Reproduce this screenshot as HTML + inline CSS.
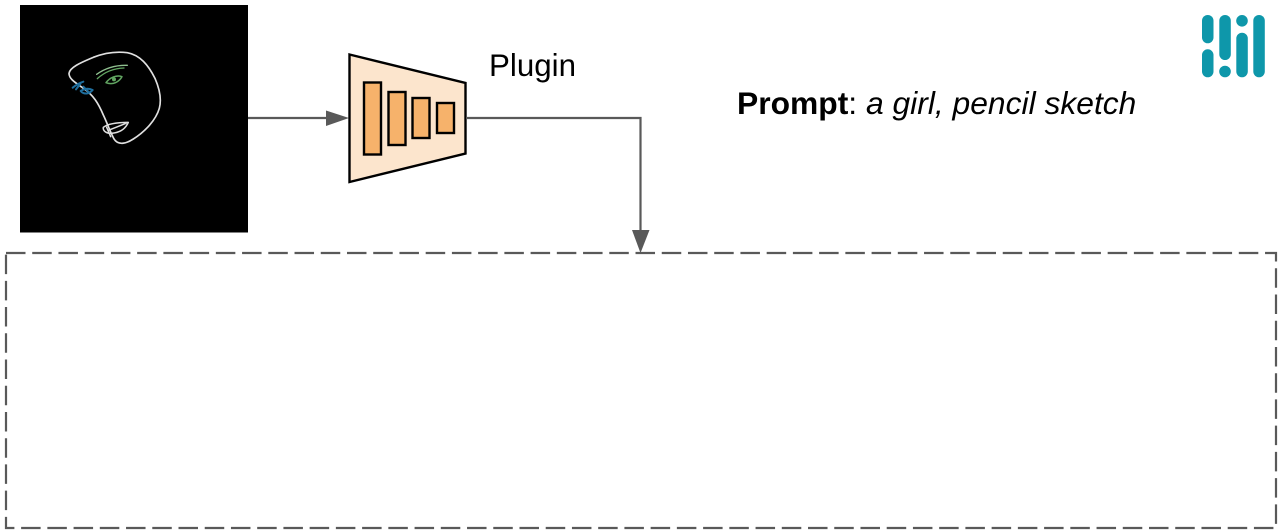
<!DOCTYPE html>
<html><head><meta charset="utf-8"><style>
html,body{margin:0;padding:0;background:#fff;width:1280px;height:532px;overflow:hidden}
svg{display:block}
text{font-family:"Liberation Sans",sans-serif;fill:#000}
</style></head><body>
<svg width="1280" height="532" viewBox="0 0 1280 532" xmlns="http://www.w3.org/2000/svg">
<rect x="20" y="5" width="228" height="227.500" fill="#000"/>
<g transform="translate(50,40) scale(0.3333)" fill="none" stroke-linecap="round" stroke-linejoin="round">
<path d="M57 100C60 80 100 65 130 52C165 38 200 34 232 38C270 45 295 75 315 115C328 145 336 175 328 205C318 240 285 275 250 297C230 310 205 318 192 297C178 270 172 250 160 225C145 190 130 165 100 145C80 130 57 118 57 100Z" stroke="#e0e0e0" stroke-width="5"/>
<path d="M160 262C175 250 205 247 235 247C225 270 205 280 178 280C165 278 158 270 160 262ZM170 262L182 290M178 270L228 250" stroke="#e0e0e0" stroke-width="4.500"/>
<path d="M140 103C165 85 195 75 232 76" stroke="#8fbf8f" stroke-width="4"/>
<path d="M142 116C165 95 190 85 222 84" stroke="#62a662" stroke-width="4"/>
<path d="M168 128C180 112 200 104 216 110C208 125 190 136 168 128Z" stroke="#62a662" stroke-width="4.500"/>
<circle cx="192" cy="118" r="6" fill="#62a662"/>
<path d="M68 143C78 135 90 128 100 125M78 148L92 130M92 153C105 145 118 145 128 150C118 162 102 165 92 153ZM100 140L118 158" stroke="#1f6f9f" stroke-width="6"/>
</g>
<line x1="248" y1="118" x2="330" y2="118" stroke="#595959" stroke-width="2.200"/>
<polygon points="326,110.500 349,118 326,126" fill="#595959"/>
<polygon points="349.500,54.500 465.500,83 465.500,153.500 349.500,182" fill="#fce5cd" stroke="#000" stroke-width="2.400"/>
<g fill="#f6b26b" stroke="#000" stroke-width="2.400">
<rect x="364" y="82.500" width="17" height="72"/>
<rect x="388.500" y="92" width="17" height="53"/>
<rect x="412.500" y="98" width="17" height="40"/>
<rect x="437" y="103" width="17" height="30"/>
</g>
<path d="M466 118H640.500V235" fill="none" stroke="#595959" stroke-width="2.200"/>
<polygon points="632,230 649.500,230 640.500,253" fill="#595959"/>
<rect x="6" y="253" width="1270" height="275" fill="none" stroke="#595959" stroke-width="2.200" stroke-dasharray="19.500 6.730"/>
<text x="489" y="76" font-size="31.300">Plugin</text>
<text x="737" y="114" font-size="31.800"><tspan font-weight="bold">Prompt</tspan>: <tspan font-style="italic">a girl, pencil sketch</tspan></text>
<g fill="#0e97aa">
<rect x="1202" y="15" width="11.500" height="28.300" rx="5.750"/>
<rect x="1202" y="49.300" width="11.500" height="28" rx="5.750"/>
<rect x="1219.300" y="15" width="11.500" height="45" rx="5.750"/>
<circle cx="1225" cy="71.500" r="5.800"/>
<circle cx="1242" cy="20.800" r="5.800"/>
<rect x="1236.300" y="32.700" width="11.500" height="44.600" rx="5.750"/>
<rect x="1253.300" y="15" width="11.500" height="62.300" rx="5.750"/>
</g>
</svg>
</body></html>
